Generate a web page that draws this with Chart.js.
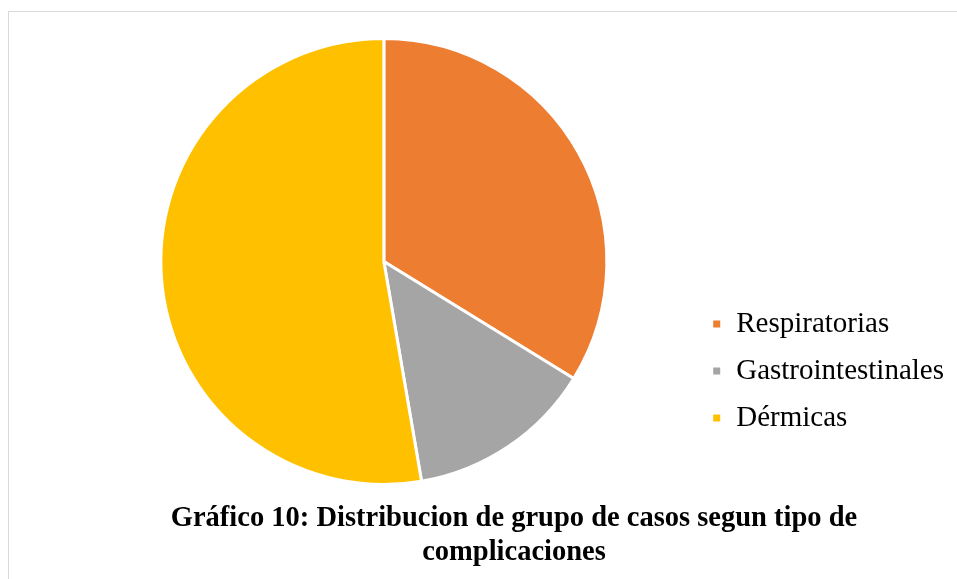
<!DOCTYPE html>
<html>
<head>
<meta charset="utf-8">
<script src="https://cdn.jsdelivr.net/npm/chart.js@4.4.1/dist/chart.umd.min.js"></script>
<style>
  html, body { margin: 0; padding: 0; background: #fff; overflow: hidden; width: 957px; height: 579px; }
  #frame { position: absolute; left: 8px; top: 11px; width: 1018px; height: 600px; border: 1px solid #d9d9d9; background: #fff; }
  #c { display: block; }
</style>
</head>
<body>
<div id="frame"><canvas id="c" width="1018" height="558"></canvas></div>
<script>
const categories = ['Respiratorias', 'Gastrointestinales', 'Dérmicas'];
const casos = [25, 10, 39];
const colores = ['#ED7D31', '#A5A5A5', '#FFC000'];
const tituloLineas = ['Gráfico 10: Distribucion de grupo de casos segun tipo de', 'complicaciones'];

new Chart(document.getElementById('c'), {
  type: 'pie',
  data: {
    labels: categories,
    datasets: [{
      data: casos,
      backgroundColor: colores,
      borderColor: '#ffffff',
      borderWidth: 3,
      radius: 223
    }]
  },
  options: {
    responsive: false,
    animation: false,
    layout: { padding: { top: 9, left: 65, right: 73, bottom: 0 } },
    plugins: {
      tooltip: { enabled: false },
      legend: {
        position: 'right',
        align: 'center',
        title: {
          display: true,
          text: ' ',
          font: { size: 10, lineHeight: 1 },
          padding: { top: 0, bottom: 141 }
        },
        labels: {
          boxWidth: 10,
          boxHeight: 10,
          padding: 18,
          color: '#000',
          font: { family: '"Liberation Serif", "Times New Roman", serif', size: 29 }
        }
      },
      title: {
        display: true,
        position: 'bottom',
        text: tituloLineas,
        color: '#000',
        padding: { top: 0, bottom: 0 },
        font: { family: '"Liberation Serif", "Times New Roman", serif', size: 28.5, weight: 'bold', lineHeight: '34px' }
      }
    }
  }
});
</script>
</body>
</html>
